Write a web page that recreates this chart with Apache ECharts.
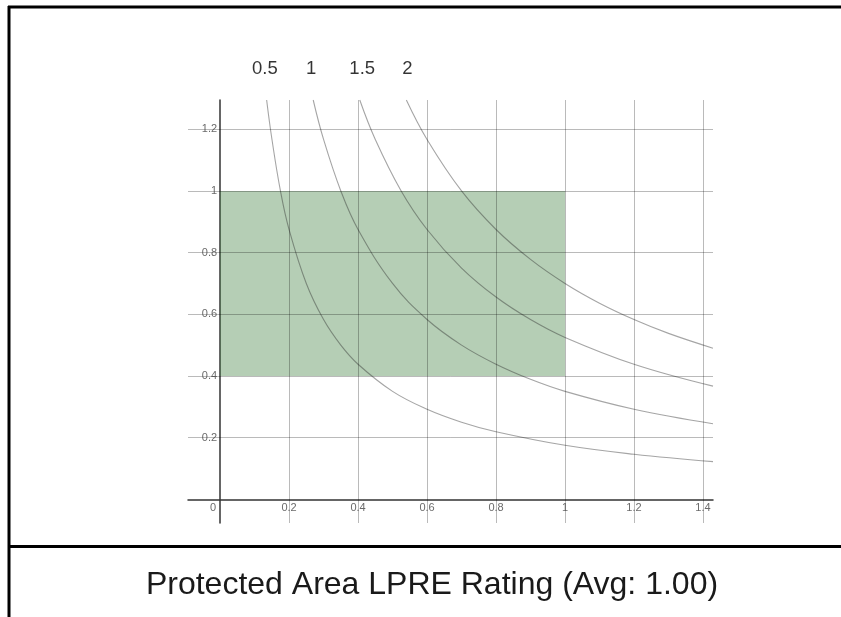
<!DOCTYPE html>
<html>
<head>
<meta charset="utf-8">
<script src="https://cdn.jsdelivr.net/npm/echarts@6/dist/echarts.min.js"></script>
<style>
  html, body { margin: 0; padding: 0; background: #fff; }
  #main { width: 841px; height: 617px; }
</style>
</head>
<body>
<div id="main"></div>
<script>
// values
let xTicks = [0.2, 0.4, 0.6, 0.8, 1, 1.2, 1.4];
let yTicks = [0.2, 0.4, 0.6, 0.8, 1, 1.2];
let xTickLabels = ['0.2', '0.4', '0.6', '0.8', '1', '1.2', '1.4'];
let yTickLabels = ['0.2', '0.4', '0.6', '0.8', '1', '1.2'];

let curveNames = ['0.5', '1', '1.5', '2'];
let curveLabelX = [0.130, 0.264, 0.412, 0.543];

let curve05 = [[0.135, 1.295], [0.15, 1.17], [0.175, 1.0], [0.2, 0.875], [0.25, 0.70], [0.3, 0.583],
  [0.35, 0.50], [0.4, 0.438], [0.5, 0.35], [0.6, 0.292], [0.7, 0.25], [0.8, 0.219], [1.0, 0.175],
  [1.2, 0.146], [1.429, 0.122]];
let curve10 = [[0.27, 1.295], [0.3, 1.167], [0.35, 1.0], [0.4, 0.875], [0.5, 0.70], [0.6, 0.583],
  [0.7, 0.50], [0.8, 0.438], [0.9, 0.389], [1.0, 0.35], [1.2, 0.292], [1.429, 0.245]];
let curve15 = [[0.405, 1.295], [0.45, 1.167], [0.525, 1.0], [0.6, 0.875], [0.7, 0.75], [0.8, 0.656],
  [0.9, 0.583], [1.0, 0.525], [1.2, 0.438], [1.429, 0.367]];
let curve20 = [[0.54, 1.295], [0.6, 1.167], [0.7, 1.0], [0.8, 0.875], [0.9, 0.778], [1.0, 0.70],
  [1.1, 0.636], [1.2, 0.583], [1.3, 0.538], [1.429, 0.49]];

let box = { x0: 0, x1: 1, y0: 0.4, y1: 1 };
let titleText = 'Protected Area LPRE Rating (Avg: 1.00)';

let xMin = -0.093, xMax = 1.429, yMin = -0.077, yMax = 1.295;

let myChart = echarts.init(document.getElementById('main'));

let curveStyle = { color: 'rgba(40,40,40,0.42)', width: 1.1 };
function curveSeries(data) {
    return {
        type: 'line',
        data: data,
        smooth: 0.4,
        symbol: 'none',
        lineStyle: curveStyle,
        silent: true,
        z: 4
    };
}

let tickFont = { fontFamily: 'Liberation Sans', fontSize: 11, color: '#444' };

// x labels sit under the axis, the "0" label left of the y axis
let xLabelData = [{ value: [0, 0], name: '0', label: { offset: [-7, 9] } }].concat(
    xTicks.map((v, i) => ({ value: [v, 0], name: xTickLabels[i] }))
);

option = {
    backgroundColor: '#fff',
    animation: false,
    grid: { left: 188, right: 128, top: 100, bottom: 94 },
    xAxis: {
        type: 'value', min: xMin, max: xMax,
        axisLine: { onZero: true, lineStyle: { color: '#333', width: 1.5 } },
        axisTick: { show: false }, axisLabel: { show: false }, splitLine: { show: false }
    },
    yAxis: {
        type: 'value', min: yMin, max: yMax,
        axisLine: { onZero: true, lineStyle: { color: '#333', width: 1.5 } },
        axisTick: { show: false }, axisLabel: { show: false }, splitLine: { show: false }
    },
    title: {
        text: titleText,
        left: 431, top: 564, textAlign: 'center',
        textStyle: { fontFamily: 'Liberation Sans', fontSize: 32, fontWeight: 'normal', color: '#1a1a1a' }
    },
    graphic: [
        { type: 'line', shape: { x1: 8, y1: 7, x2: 841, y2: 7 }, style: { stroke: '#000', lineWidth: 3 } },
        { type: 'line', shape: { x1: 9, y1: 6, x2: 9, y2: 617 }, style: { stroke: '#000', lineWidth: 3 } },
        { type: 'line', shape: { x1: 8, y1: 546.5, x2: 841, y2: 546.5 }, style: { stroke: '#000', lineWidth: 3 } }
    ],
    series: [
        {
            // grid lines and the green box
            type: 'line', data: [], silent: true, z: 2,
            markLine: {
                silent: true, symbol: 'none', animation: false,
                label: { show: false },
                lineStyle: { color: 'rgba(0,0,0,0.27)', width: 1, type: 'solid' },
                data: xTicks.map(v => ({ xAxis: v })).concat(yTicks.map(v => ({ yAxis: v })))
            },
            markArea: {
                silent: true,
                itemStyle: { color: 'rgba(50,120,50,0.36)', borderWidth: 0 },
                data: [[{ xAxis: box.x0, yAxis: box.y0 }, { xAxis: box.x1, yAxis: box.y1 }]]
            }
        },
        curveSeries(curve05),
        curveSeries(curve10),
        curveSeries(curve15),
        curveSeries(curve20),
        {
            // x tick labels
            type: 'scatter', symbolSize: 0.01, itemStyle: { color: 'transparent' }, silent: true, z: 5,
            data: xLabelData,
            label: {
                show: true, position: 'inside', offset: [0, 9], ...tickFont,
                formatter: p => p.name
            }
        },
        {
            // y tick labels
            type: 'scatter', symbolSize: 0.01, itemStyle: { color: 'transparent' }, silent: true, z: 5,
            data: yTicks.map(v => [0, v]),
            label: {
                show: true, position: 'left', distance: 3, ...tickFont,
                formatter: p => yTickLabels[p.dataIndex]
            }
        },
        {
            // curve names above the plot
            type: 'scatter', symbolSize: 0.01, itemStyle: { color: 'transparent' }, silent: true, z: 5,
            clip: false,
            data: curveLabelX.map(v => [v, yMax]),
            label: {
                show: true, position: 'inside', offset: [0, -31],
                fontFamily: 'Liberation Sans', fontSize: 18.5, color: '#000',
                formatter: p => curveNames[p.dataIndex]
            }
        }
    ]
};

myChart.setOption(option);
// title.left with textAlign center anchors the text centre; nudge to the reference centre
myChart.setOption({ title: { left: 427 } });
</script>
</body>
</html>
